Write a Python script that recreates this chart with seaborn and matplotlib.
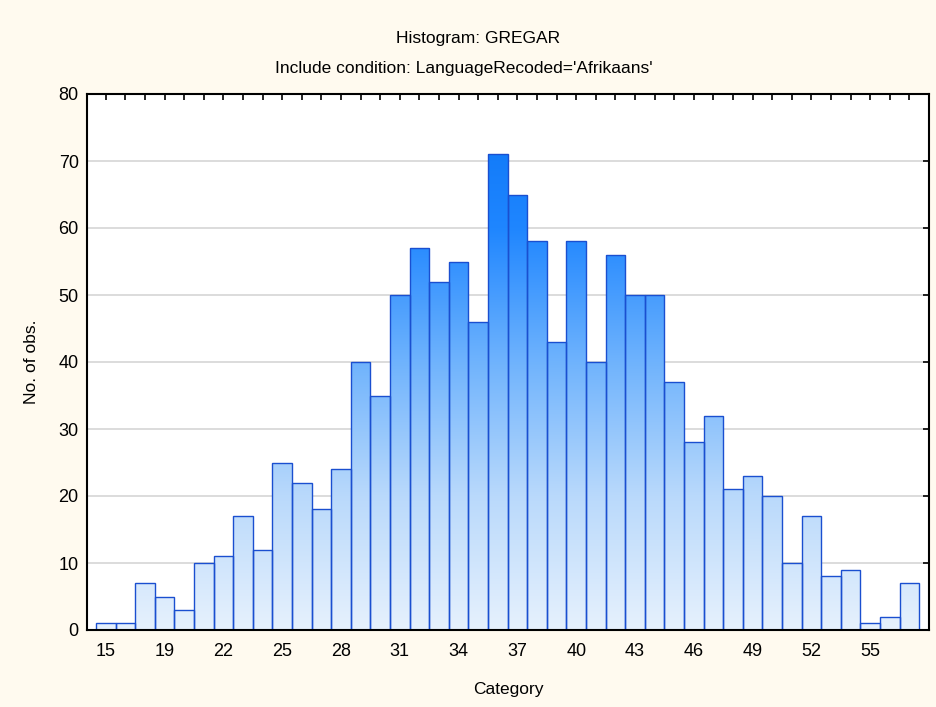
"""Histogram of GREGAR for Afrikaans respondents, Statistica-like styling."""
import numpy as np
import pandas as pd
import matplotlib
matplotlib.use("Agg")
import matplotlib.pyplot as plt
from matplotlib.colors import LinearSegmentedColormap
import seaborn as sns

# counts per category (bar order, left to right)
counts = [1, 1, 7, 5, 3, 10, 11, 17, 12, 25, 22, 18, 24, 40, 35, 50, 57, 52, 55,
          46, 71, 65, 58, 43, 58, 40, 56, 50, 50, 37, 28, 32, 21, 23, 20, 10, 17,
          8, 9, 1, 2, 7]
tick_labels = ["15", "19", "22", "25", "28", "31", "34", "37", "40", "43",
               "46", "49", "52", "55"]
title = "Histogram: GREGAR"
subtitle = "Include condition: LanguageRecoded='Afrikaans'"

sns.set_theme(style="white")
plt.rcParams["font.family"] = ["Liberation Sans", "DejaVu Sans"]
plt.rcParams["text.color"] = "black"
plt.rcParams["axes.labelcolor"] = "black"
plt.rcParams["xtick.labelcolor"] = "black"
plt.rcParams["ytick.labelcolor"] = "black"

df = pd.DataFrame({"bin": np.arange(len(counts)), "n": counts})

fig = plt.figure(figsize=(9.36, 7.07), dpi=100, facecolor="#fffaef")
ax = fig.add_axes([87 / 936, 1 - 630 / 707, (929 - 87) / 936, (630 - 94) / 707])
ax.set_facecolor("white")

sns.barplot(data=df, x="bin", y="n", ax=ax, width=1.0, color="#9cc8fa",
            edgecolor="#1a4fd0", linewidth=1.0, native_scale=True, zorder=3)

x0, x1 = -0.96, len(counts) - 0.0
ax.set_xlim(x0, x1)
ax.set_ylim(0, 80)

# vertical gradient clipped to each bar, darker blue higher up
cmap = LinearSegmentedColormap.from_list(
    "statblue", ["#e6f1fd", "#b9d9fb", "#6fb3fd", "#1f86ff", "#0a74f5"])
grad = np.linspace(0, 1, 256).reshape(-1, 1)
for p in ax.patches:
    p.set_facecolor("none")
    im = ax.imshow(grad, cmap=cmap, origin="lower", aspect="auto",
                   extent=[x0, x1, 0, 80], zorder=2, interpolation="bilinear")
    im.set_clip_path(p)
ax.set_xlim(x0, x1)
ax.set_ylim(0, 80)

ax.yaxis.grid(True, color="#d9d9d9", linewidth=1.3, zorder=0)
ax.set_axisbelow(True)

ax.set_xticks(np.arange(len(counts)))
ax.set_xticklabels([tick_labels[i // 3] if i % 3 == 0 else "" for i in range(len(counts))])
ax.set_yticks(np.arange(0, 81, 10))
ax.tick_params(axis="both", direction="in", length=4, width=1.2, color="black",
               top=True, right=True, labelsize=13, pad=6)
ax.tick_params(axis="x", pad=9)
for s in ax.spines.values():
    s.set_visible(True)
    s.set_color("black")
    s.set_linewidth(1.5)
    s.set_zorder(5)

ax.set_xlabel("Category", fontsize=12.5, labelpad=16)
ax.set_ylabel("No. of obs.", fontsize=12.5, labelpad=14)

fig.text(478 / 936, 1 - 38 / 707, title, ha="center", va="center", fontsize=12.5)
fig.text(464 / 936, 1 - 68 / 707, subtitle, ha="center", va="center", fontsize=12.5)

fig.savefig("out.png", dpi=100, facecolor=fig.get_facecolor())
